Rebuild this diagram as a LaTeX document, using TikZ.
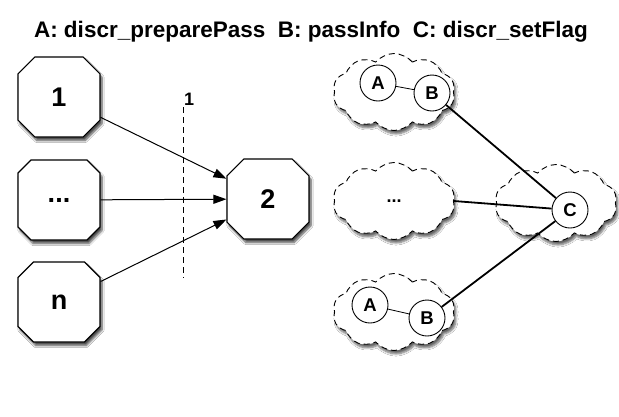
\documentclass[tikz,border=0pt]{standalone}
\usepackage{fontspec}
\setmainfont{Liberation Sans}
\usetikzlibrary{shapes.misc,shapes.symbols,shadows.blur,arrows.meta}
\begin{document}
\begin{tikzpicture}[x=1pt,y=-1pt,font=\bfseries,
  box/.style={chamfered rectangle, chamfered rectangle xsep=11pt, chamfered rectangle ysep=11pt,
    draw, fill=white, line width=1.1pt, minimum width=82pt, minimum height=80pt, inner sep=0pt,
    font=\bfseries\fontsize{27}{30}\selectfont,
    blur shadow={shadow xshift=2pt, shadow yshift=-3.5pt, shadow blur steps=6, shadow opacity=70}},
  cld/.style={cloud, cloud puffs=10, cloud puff arc=100, aspect=1.6, draw,
    dash pattern=on 6pt off 4pt, fill=white,
    line width=0.9pt, minimum width=122pt, minimum height=77pt, inner sep=0pt,
    font=\bfseries\fontsize{18}{20}\selectfont,
    blur shadow={shadow xshift=2pt, shadow yshift=-3.5pt, shadow blur steps=6, shadow opacity=60}},
  circ/.style={circle, draw, fill=white, line width=0.9pt, minimum size=36pt, inner sep=0pt,
    font=\bfseries\fontsize{18.5}{20}\selectfont},
  arr/.style={-{Triangle[length=13pt,width=9pt]}, line width=1pt},
  link/.style={line width=1.8pt},
  thin link/.style={line width=0.8pt}]
\useasboundingbox[fill=white] (0,0) rectangle (619,416);
\node[font=\bfseries\fontsize{22.5}{26}\selectfont] (title) at (311,32) {A: discr\_preparePass\ \ B: passInfo\ \ C: discr\_setFlag};
% left part
\node[box] (b1) at (59,97) {1};
\node[box] (bd) at (59,200) {...};
\node[box] (bn) at (59,302) {n};
\node[box] (b2) at (268,199) {2};
\coordinate (d1) at (183,107);
\coordinate (d2) at (183,278);
\draw[dash pattern=on 6pt off 4pt, line width=0.9pt] (d1) -- (d2);
\node[anchor=south west, inner sep=1pt, font=\bfseries\fontsize{18}{20}\selectfont] (lab1) at (d1) {1};
\draw[arr] (b1) -- (b2);
\draw[arr] (bd) -- (b2);
\draw[arr] (bn) -- (b2);
% right part
\node[cld] (ctop) at (394,92) {};
\node[cld] (cmid) at (394,201) {...};
\node[cld] (cbot) at (394,312) {};
\node[cld] (cr) at (556,203) {};
\node[circ] (tA) at (378,83) {A};
\node[circ] (tB) at (432,93) {B};
\node[circ] (bA) at (370,305) {A};
\node[circ] (bB) at (427,318) {B};
\node[circ] (C) at (570,210) {C};
\draw[thin link] (tA) -- (tB);
\draw[thin link] (bA) -- (bB);
\draw[link] (tB) -- (C);
\draw[link] (bB) -- (C);
\draw[link] (cmid.east) -- (C);
\end{tikzpicture}
\end{document}
